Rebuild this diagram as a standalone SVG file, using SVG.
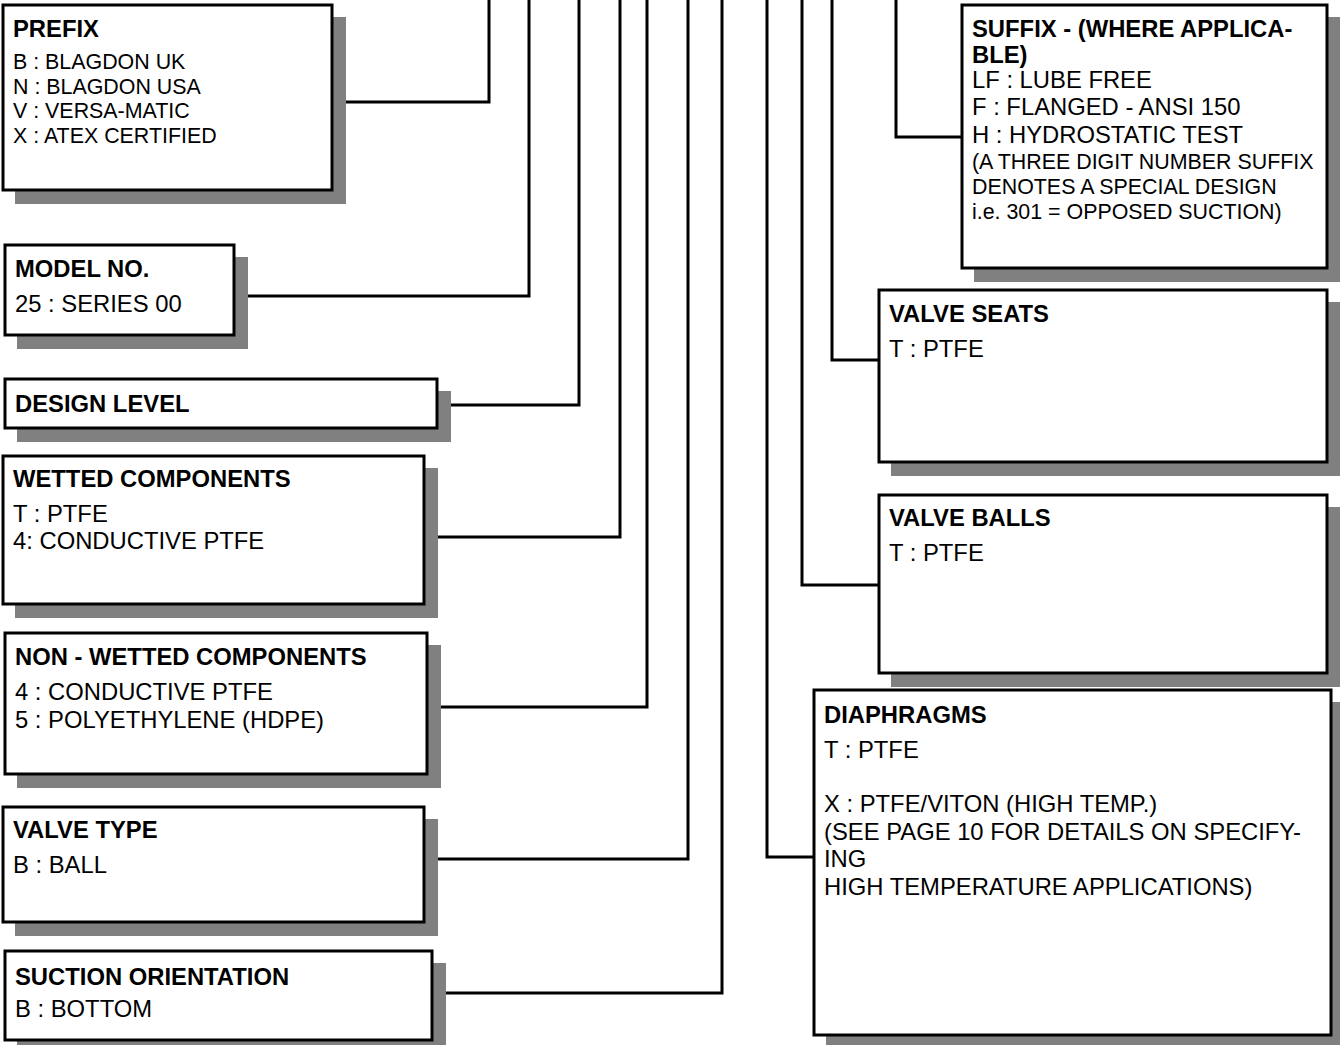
<svg xmlns="http://www.w3.org/2000/svg" width="1340" height="1045" viewBox="0 0 1340 1045">
<style>
.bg{fill:#ffffff}
.sh{fill:#808080}
.box{fill:#ffffff;stroke:#000000;stroke-width:3}
.con{fill:none;stroke:#000000;stroke-width:3;stroke-linejoin:miter}
text{font-family:"Liberation Sans",Arial,Helvetica,sans-serif;fill:#000000}
.h{font-weight:bold;font-size:23.8px}
.t{font-size:23.8px}
.s{font-size:21.4px}
</style>
<rect class="bg" x="0" y="0" width="1340" height="1045"/>
<g id="connectors">
<path class="con" d="M332,102 H489 V0"/>
<path class="con" d="M234,296 H529 V0"/>
<path class="con" d="M437,405 H579 V0"/>
<path class="con" d="M424,537 H620 V0"/>
<path class="con" d="M427,707 H647 V0"/>
<path class="con" d="M424,859 H688 V0"/>
<path class="con" d="M432,993 H722 V0"/>
<path class="con" d="M814,857 H767 V0"/>
<path class="con" d="M879,585 H802 V0"/>
<path class="con" d="M879,360 H832 V0"/>
<path class="con" d="M962,137 H896 V0"/>
</g>
<g id="prefix">
<rect class="sh" x="15" y="17" width="331" height="187"/>
<rect class="box" x="3" y="5" width="329" height="185"/>
<text class="h" x="13" y="37">PREFIX</text>
<text class="s" x="13" y="69">B : BLAGDON UK</text>
<text class="s" x="13" y="94">N : BLAGDON USA</text>
<text class="s" x="13" y="118">V : VERSA-MATIC</text>
<text class="s" x="13" y="143">X : ATEX CERTIFIED</text>
</g>
<g id="model">
<rect class="sh" x="17" y="257" width="231" height="92"/>
<rect class="box" x="5" y="245" width="229" height="90"/>
<text class="h" x="15" y="277">MODEL NO.</text>
<text class="t" x="15" y="312">25 : SERIES 00</text>
</g>
<g id="design-level">
<rect class="sh" x="17" y="391" width="434" height="51"/>
<rect class="box" x="5" y="379" width="432" height="49"/>
<text class="h" x="15" y="412">DESIGN LEVEL</text>
</g>
<g id="wetted">
<rect class="sh" x="15" y="468" width="423" height="150"/>
<rect class="box" x="3" y="456" width="421" height="148"/>
<text class="h" x="13" y="487">WETTED COMPONENTS</text>
<text class="t" x="13" y="522">T : PTFE</text>
<text class="t" x="13" y="549">4: CONDUCTIVE PTFE</text>
</g>
<g id="non-wetted">
<rect class="sh" x="17" y="645" width="424" height="143"/>
<rect class="box" x="5" y="633" width="422" height="141"/>
<text class="h" x="15" y="665">NON - WETTED COMPONENTS</text>
<text class="t" x="15" y="700">4 : CONDUCTIVE PTFE</text>
<text class="t" x="15" y="728">5 : POLYETHYLENE (HDPE)</text>
</g>
<g id="valve-type">
<rect class="sh" x="15" y="819" width="423" height="117"/>
<rect class="box" x="3" y="807" width="421" height="115"/>
<text class="h" x="13" y="838">VALVE TYPE</text>
<text class="t" x="13" y="873">B : BALL</text>
</g>
<g id="suction">
<rect class="sh" x="17" y="963" width="429" height="91"/>
<rect class="box" x="5" y="951" width="427" height="89"/>
<text class="h" x="15" y="985">SUCTION ORIENTATION</text>
<text class="t" x="15" y="1017">B : BOTTOM</text>
</g>
<g id="suffix">
<rect class="sh" x="974" y="17" width="367" height="265"/>
<rect class="box" x="962" y="5" width="365" height="263"/>
<text class="h" x="972" y="37">SUFFIX - (WHERE APPLICA-</text>
<text class="h" x="972" y="63">BLE)</text>
<text class="t" x="972" y="88">LF : LUBE FREE</text>
<text class="t" x="972" y="115">F : FLANGED - ANSI 150</text>
<text class="t" x="972" y="143">H : HYDROSTATIC TEST</text>
<text class="s" x="972" y="169">(A THREE DIGIT NUMBER SUFFIX</text>
<text class="s" x="972" y="194">DENOTES A SPECIAL DESIGN</text>
<text class="s" x="972" y="219">i.e. 301 = OPPOSED SUCTION)</text>
</g>
<g id="valve-seats">
<rect class="sh" x="891" y="302" width="450" height="174"/>
<rect class="box" x="879" y="290" width="448" height="172"/>
<text class="h" x="889" y="322">VALVE SEATS</text>
<text class="t" x="889" y="357">T : PTFE</text>
</g>
<g id="valve-balls">
<rect class="sh" x="891" y="507" width="450" height="180"/>
<rect class="box" x="879" y="495" width="448" height="178"/>
<text class="h" x="889" y="526">VALVE BALLS</text>
<text class="t" x="889" y="561">T : PTFE</text>
</g>
<g id="diaphragms">
<rect class="sh" x="826" y="702" width="519" height="347"/>
<rect class="box" x="814" y="690" width="517" height="345"/>
<text class="h" x="824" y="723">DIAPHRAGMS</text>
<text class="t" x="824" y="758">T : PTFE</text>
<text class="t" x="824" y="812">X : PTFE/VITON (HIGH TEMP.)</text>
<text class="t" x="824" y="840">(SEE PAGE 10 FOR DETAILS ON SPECIFY-</text>
<text class="t" x="824" y="867">ING</text>
<text class="t" x="824" y="895">HIGH TEMPERATURE APPLICATIONS)</text>
</g>
</svg>
